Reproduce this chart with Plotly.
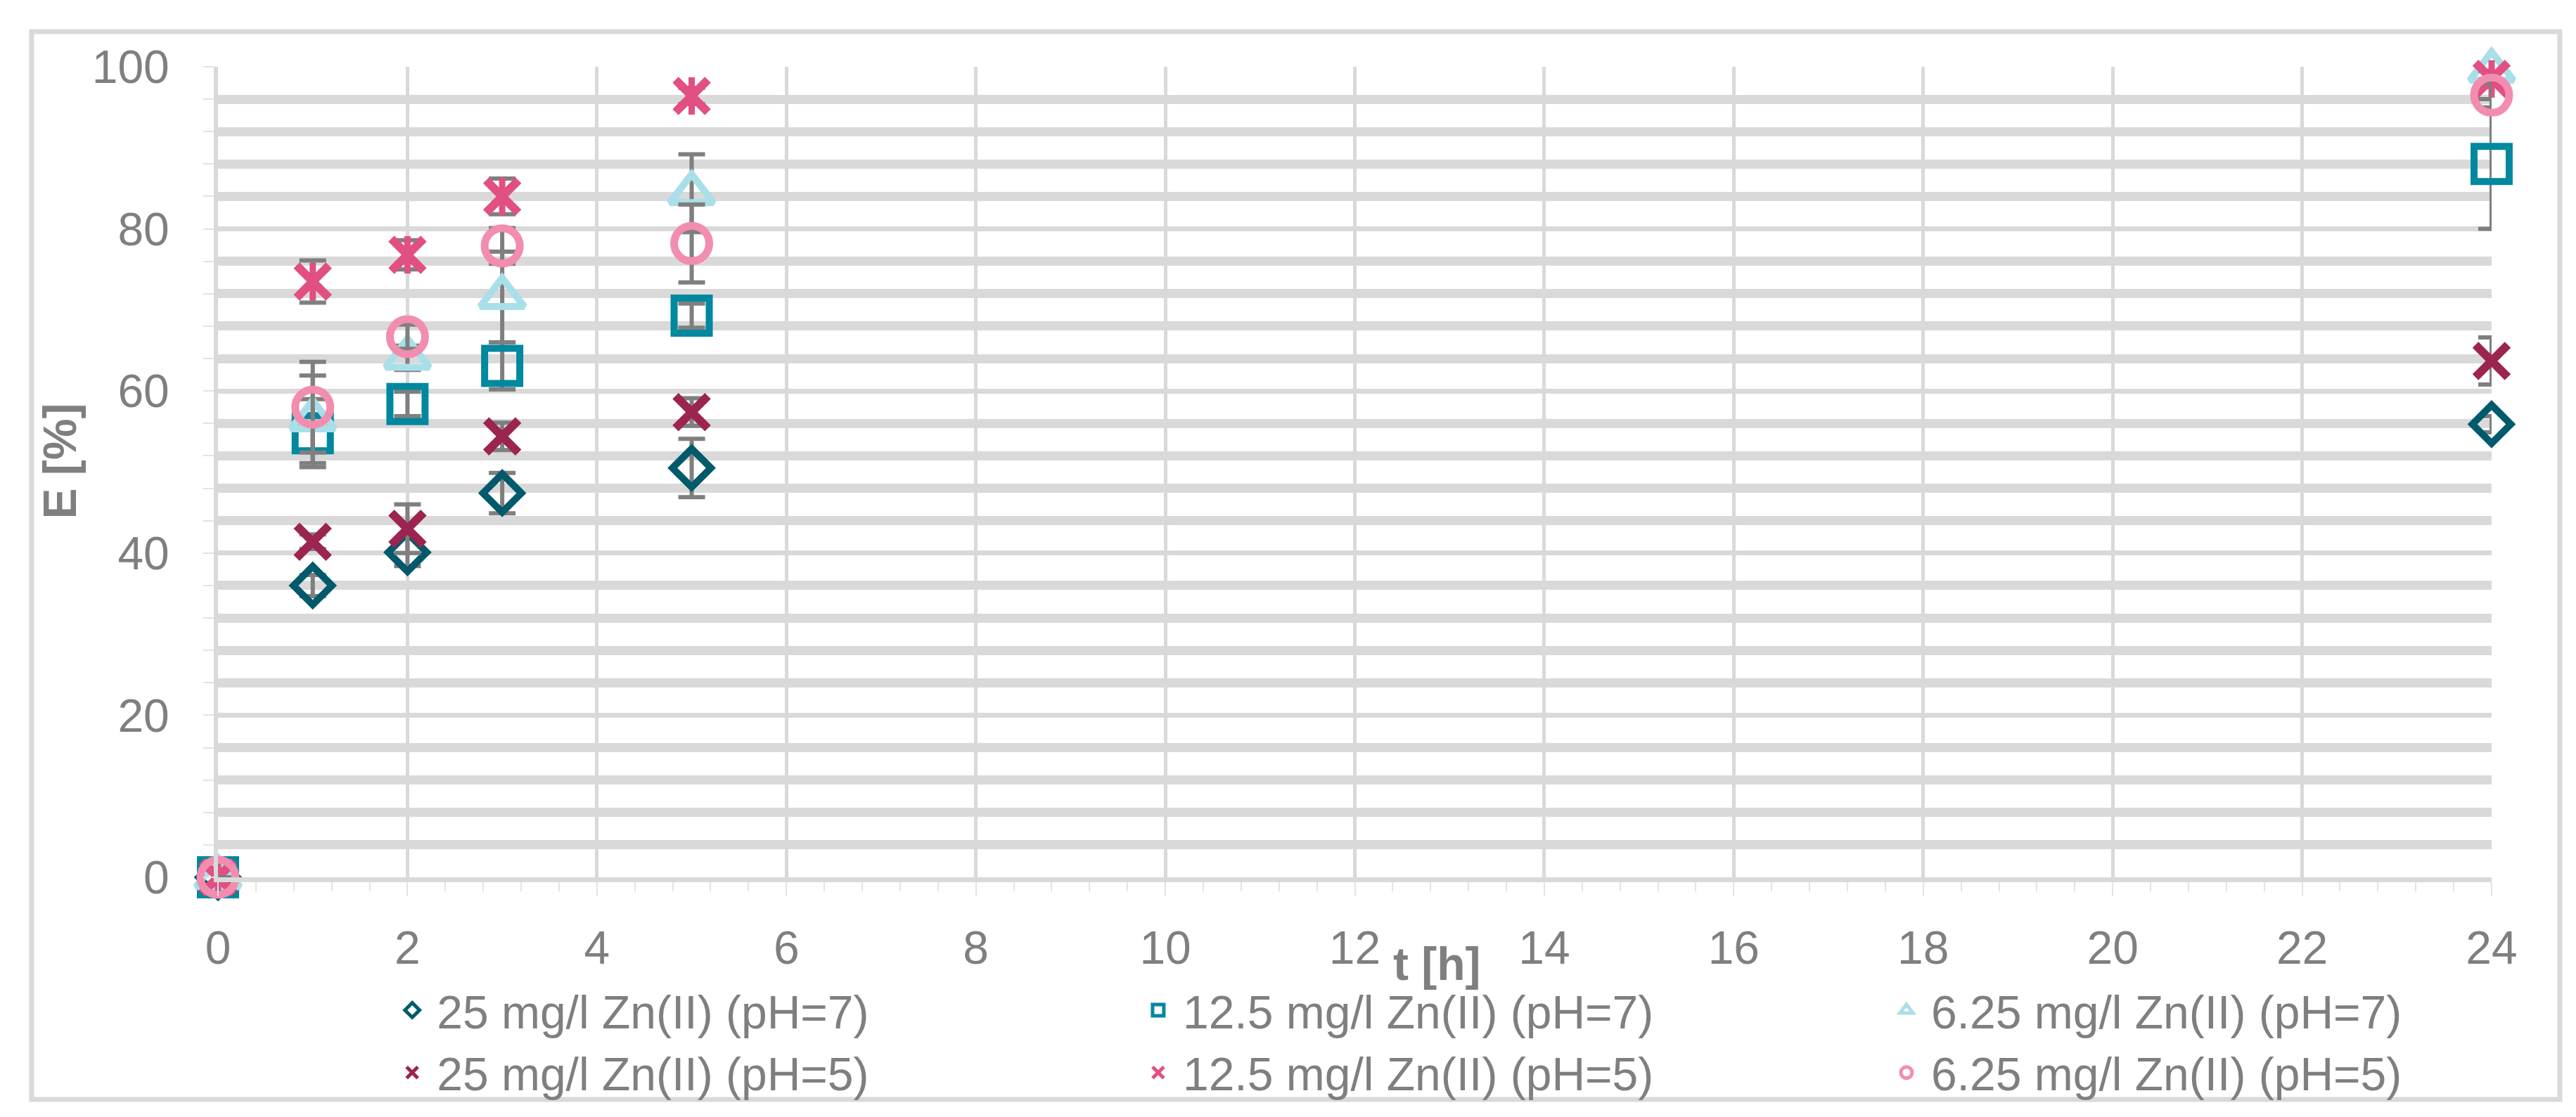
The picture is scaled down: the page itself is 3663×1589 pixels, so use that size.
import plotly.graph_objects as go

# sampling times [h]
hours = [0, 1, 2, 3, 5, 24]

# removal efficiency E [%] and standard deviations
zn25_ph7 = [0, 36.0, 40.1, 47.4, 50.5, 55.9]
zn25_ph7_err = [0, 1.3, 1.7, 2.5, 3.6, 1.0]
zn125_ph7 = [0, 54.8, 58.4, 63.1, 69.3, 88.0]
zn125_ph7_err = [0, 4.2, 1.5, 2.9, 1.5, 8.0]
zn625_ph7 = [0, 56.5, 64.1, 71.6, 84.4, 99.5]
zn625_ph7_err = [0, 5.4, 1.5, 5.6, 4.8, 1.0]
zn25_ph5 = [0, 41.4, 43.0, 54.4, 57.4, 63.7]
zn25_ph5_err = [0, 0.9, 3.0, 1.7, 1.7, 2.9]
zn125_ph5 = [0, 73.5, 76.8, 84.0, 96.4, 98.5]
zn125_ph5_err = [0, 2.6, 1.8, 2.2, 1.0, 1.0]
zn625_ph5 = [0, 58.0, 66.7, 77.9, 78.2, 96.5]
zn625_ph5_err = [0, 5.6, 1.5, 2.2, 4.8, 1.5]

series_names = ['25 mg/l Zn(II) (pH=7)', '12.5 mg/l Zn(II) (pH=7)', '6.25 mg/l Zn(II) (pH=7)',
                '25 mg/l Zn(II) (pH=5)', '12.5 mg/l Zn(II) (pH=5)', '6.25 mg/l Zn(II) (pH=5)']

GRAY = '#7F7F7F'
GRID = '#D9D9D9'
TICK = '#E3E3E3'
FONT = 'Liberation Sans, Arial, sans-serif'

styles = [
    dict(symbol='diamond-open', color='#015A6B', size=42, lw=10, legend='legend'),
    dict(symbol='square-open', color='#00889F', size=50, lw=10, legend='legend2'),
    dict(symbol='triangle-up-open', color='#A9DFE9', size=54, lw=10, legend='legend3'),
    dict(symbol='x-thin', color='#9C2450', size=46, lw=12, legend='legend'),
    dict(symbol='x-thin', color='#E24F82', size=46, lw=12, legend='legend2'),
    dict(symbol='circle-open', color='#F28DAF', size=50, lw=11, legend='legend3'),
]
values = [zn25_ph7, zn125_ph7, zn625_ph7, zn25_ph5, zn125_ph5, zn625_ph5]
errors = [zn25_ph7_err, zn125_ph7_err, zn625_ph7_err, zn25_ph5_err, zn125_ph5_err, zn625_ph5_err]

fig = go.Figure()
for i, (name, st, y, err) in enumerate(zip(series_names, styles, values, errors)):
    fig.add_trace(go.Scatter(
        x=hours, y=y, name=name, mode='markers', legend=st['legend'],
        legendrank=i, cliponaxis=False,
        marker=dict(symbol=st['symbol'], size=st['size'], color=st['color'],
                    line=dict(color=st['color'], width=st['lw'])),
        error_y=dict(type='data', array=err, color=GRAY, thickness=6, width=19),
    ))
    if i == 4:
        # vertical bar of the star marker
        fig.add_trace(go.Scatter(
            x=hours, y=y, mode='markers', showlegend=False, cliponaxis=False,
            marker=dict(symbol='line-ns', size=38, color=st['color'],
                        line=dict(color=st['color'], width=9)),
        ))

legend_style = dict(orientation='v', xanchor='left', y=-0.121, yanchor='top',
                    font=dict(size=66, color=GRAY), bgcolor='rgba(0,0,0,0)',
                    itemwidth=60, tracegroupgap=0)

fig.update_layout(
    width=3663, height=1589,
    paper_bgcolor='white', plot_bgcolor='white',
    margin=dict(l=302, r=128, t=87, b=349, autoexpand=False),
    font=dict(family=FONT, size=66, color=GRAY),
    showlegend=True,
    legend=dict(x=0.0746, **legend_style),
    legend2=dict(x=0.4027, **legend_style),
    legend3=dict(x=0.7318, **legend_style),
)

fig.update_xaxes(
    range=[0, 24], tick0=0, dtick=2, showgrid=True, gridcolor=GRID, gridwidth=5,
    zeroline=False, showline=True, linecolor=GRID, linewidth=7,
    ticks='outside', ticklen=20, tickwidth=2, tickcolor=TICK,
    ticklabelstandoff=17,
    minor=dict(dtick=0.4, ticks='outside', ticklen=13, tickwidth=2, tickcolor=TICK,
               showgrid=False),
)
fig.update_yaxes(
    range=[0, 100], tick0=0, dtick=20, showgrid=True, gridcolor=GRID, gridwidth=7,
    zeroline=False, showline=True, linecolor=GRID, linewidth=6,
    ticks='outside', ticklen=15, tickwidth=2, tickcolor=TICK,
    ticklabelstandoff=35,
    minor=dict(dtick=4, ticks='outside', ticklen=15, tickwidth=2, tickcolor=TICK,
               showgrid=True, gridcolor=GRID, gridwidth=13),
)

# axis titles
fig.add_annotation(text='<b>E [%]</b>', xref='paper', yref='paper', x=-0.0699, y=0.513,
                   xanchor='center', yanchor='middle', textangle=-90, showarrow=False,
                   font=dict(size=66, color=GRAY))
fig.add_annotation(text='<b>t [h]</b>', xref='x', yref='paper', x=12.87, y=-0.1066,
                   xanchor='center', yanchor='middle', showarrow=False,
                   font=dict(size=66, color=GRAY))

# chart border
fig.add_shape(type='rect', xref='paper', yref='paper', x0=-0.0820, x1=1.030, y0=-0.274, y1=1.0434,
              line=dict(color=GRID, width=7), layer='below')

fig.write_html('out.html')
